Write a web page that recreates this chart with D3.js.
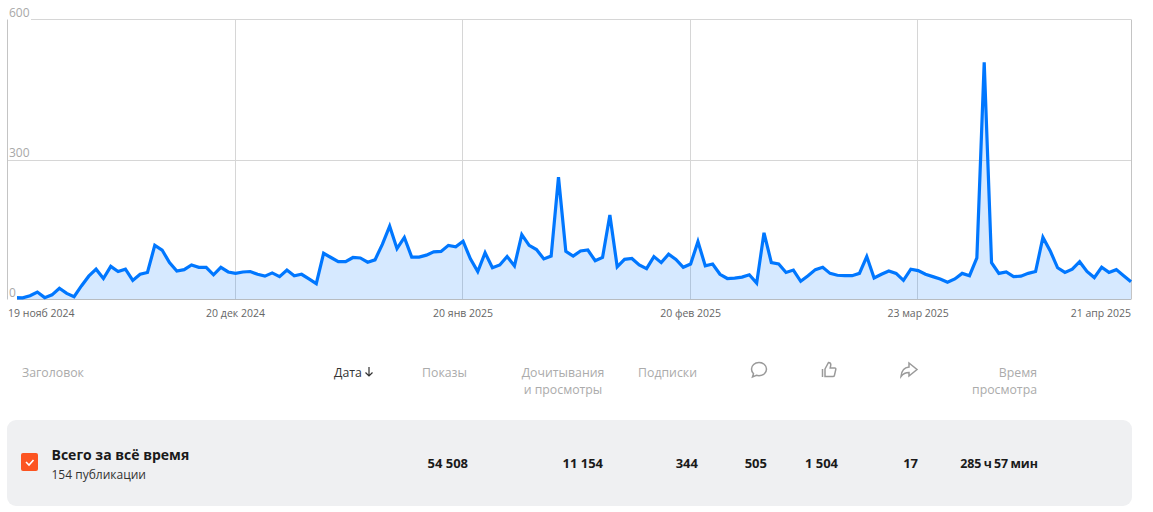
<!DOCTYPE html>
<html>
<head>
<meta charset="utf-8">
<script src="https://cdn.jsdelivr.net/npm/d3@7"></script>
<style>
  html, body { margin: 0; padding: 0; background: #fff; overflow: hidden; }
  text { font-family: "Open Sans", sans-serif; }
</style>
</head>
<body>
<div id="chart"></div>
<script>
// daily values, starting at 19 Nov 2024
const startDate = new Date(2024, 10, 19);
const values = [
  3, 4, 3.5, 8, 16, 4, 10, 24, 13, 6,
  29, 50, 65, 45, 71, 60, 65, 41, 54, 58,
  116, 106, 79, 61, 64, 74, 69, 69, 53, 69,
  59, 56, 59, 60, 54, 50, 57, 49, 63, 51,
  54, 44, 34, 99, 90, 81, 81, 90, 89, 80,
  85, 118, 157, 109, 133, 91, 91, 95, 102, 103,
  116, 113, 125, 87, 60, 100, 68, 74, 92, 72,
  139, 116, 107, 87, 93, 262, 103, 93, 104, 106,
  83, 90, 181, 70, 86, 88, 74, 66, 92, 79,
  97, 86, 69, 76, 124, 72, 76, 54, 45, 46,
  48, 53, 35, 143, 79, 76, 58, 63, 39, 51,
  64, 69, 56, 52, 51, 51, 56, 92, 46, 54,
  61, 56, 41, 65, 62, 54, 49, 44, 37, 44,
  56, 51, 89, 508, 79, 56, 59, 49, 50, 56,
  60, 133, 104, 68, 58, 65, 81, 60, 47, 69,
  58, 64, 51, 38
];
const yTicks = [0, 300, 600];
const xTickDates = [
  new Date(2024, 10, 19), new Date(2024, 11, 20), new Date(2025, 0, 20),
  new Date(2025, 1, 20), new Date(2025, 2, 23), new Date(2025, 3, 21)
];
const xTickLabels = ["19 нояб 2024", "20 дек 2024", "20 янв 2025", "20 фев 2025", "23 мар 2025", "21 апр 2025"];

// table
const headers = [
  { lines: ["Заголовок"], x: 22, anchor: "start" },
  { lines: ["Показы"], x: 467, anchor: "end" },
  { lines: ["Дочитывания", "и просмотры"], x: 603, anchor: "end", center: 563 },
  { lines: ["Подписки"], x: 697, anchor: "end" },
  { lines: ["Время", "просмотра"], x: 1037, anchor: "end" }
];
const totals = ["54 508", "11 154", "344", "505", "1 504", "17", "285 ч 57 мин"];
const totalsRight = [468, 603, 698, 767, 838, 918, 1038];

const width = 1153;
const height = 512;

const svg = d3.select("#chart").append("svg")
  .attr("width", width)
  .attr("height", height)
  .attr("viewBox", [0, 0, width, height])
  .style("display", "block");

const dates = values.map((d, i) => d3.timeDay.offset(startDate, i));

const x = d3.scaleTime()
  .domain([startDate, xTickDates[xTickDates.length - 1]])
  .range([8, 1131]);
const y = d3.scaleLinear().domain([0, 600]).range([299.5, 19.5]);

// grid
const gridColor = "#d6d6d6";
svg.append("g").selectAll("line")
  .data(xTickDates.slice(1, -1))
  .join("line")
  .attr("x1", (d) => Math.floor(x(d) - 0.5) + 0.5).attr("x2", (d) => Math.floor(x(d) - 0.5) + 0.5)
  .attr("y1", y(600)).attr("y2", y(0))
  .attr("stroke", gridColor);
svg.append("line")
  .attr("x1", 1131.5).attr("x2", 1131.5)
  .attr("y1", y(600)).attr("y2", y(0))
  .attr("stroke", "#c4c4c4");
svg.append("line")
  .attr("x1", 7.5).attr("x2", 7.5)
  .attr("y1", y(600)).attr("y2", y(0))
  .attr("stroke", "#c4c4c4");
svg.append("g").selectAll("line")
  .data(yTicks.slice(1))
  .join("line")
  .attr("x1", 8).attr("x2", 1131)
  .attr("y1", (d) => Math.round(y(d)) + (d === 600 ? -0.5 : 0.5))
  .attr("y2", (d) => Math.round(y(d)) + (d === 600 ? -0.5 : 0.5))
  .attr("stroke", gridColor);

// area and line
const area = d3.area()
  .x((d, i) => x(dates[i]))
  .y0(y(0))
  .y1((d) => y(d));
const line = d3.line()
  .x((d, i) => x(dates[i]))
  .y((d) => y(d));

svg.append("path").datum(values)
  .attr("d", area)
  .attr("fill", "#0077ff")
  .attr("fill-opacity", 0.16);
svg.append("line")
  .attr("x1", 8).attr("x2", 1131)
  .attr("y1", y(0)).attr("y2", y(0))
  .attr("stroke", "#b8bcc0");
svg.append("path").datum(values)
  .attr("d", line)
  .attr("fill", "none")
  .attr("stroke", "#0077ff")
  .attr("stroke-width", 3.2)
  .attr("stroke-linejoin", "miter");

// y labels sit on a white plate that hides the lines behind them
const yLabels = svg.append("g").selectAll("g")
  .data(yTicks)
  .join("g");
yLabels.append("rect")
  .attr("x", 8)
  .attr("y", (d) => y(d) - 14)
  .attr("width", (d) => (d === 0 ? 9 : 23))
  .attr("height", 14.5)
  .attr("fill", "#fff")
  .attr("fill-opacity", (d) => (d === 300 ? 0 : 1));
yLabels.append("text")
  .attr("x", 9)
  .attr("y", (d) => y(d) - 2.5)
  .attr("font-size", 12)
  .attr("fill", "#a8a8a8")
  .text((d) => d);

// x labels
svg.append("g").selectAll("text")
  .data(xTickDates)
  .join("text")
  .attr("x", (d) => x(d))
  .attr("y", 317)
  .attr("font-size", 10.5)
  .attr("fill", "#666")
  .attr("text-anchor", (d, i) => (i === 0 ? "start" : i === 5 ? "end" : "middle"))
  .text((d, i) => xTickLabels[i]);

// table header
const headerColor = "#ababab";
headers.forEach((h) => {
  h.lines.forEach((l, i) => {
    svg.append("text")
      .attr("x", h.center || h.x)
      .attr("y", 377 + i * 16.5)
      .attr("font-size", 12.3)
      .attr("fill", headerColor)
      .attr("text-anchor", h.center ? "middle" : h.anchor)
      .text(l);
  });
});
svg.append("text")
  .attr("x", 334).attr("y", 377)
  .attr("font-size", 12.3)
  .attr("fill", "#333")
  .text("Дата");
svg.append("path")
  .attr("d", "M369 367v9M365.5 372.5l3.5 3.5 3.5-3.5")
  .attr("fill", "none")
  .attr("stroke", "#333")
  .attr("stroke-width", 1.2);

// icons
const iconColor = "#9a9a9a";
svg.append("path")
  .attr("d", "M759 362.5c4.4 0 7.5 3 7.5 6.6s-3.1 6.6-7.5 6.6c-1 0-1.8-.1-2.6-.4l-3.9 1.6 1-3.2c-1.3-1.2-2-2.8-2-4.6 0-3.6 3.1-6.6 7.5-6.6z")
  .attr("fill", "none").attr("stroke", iconColor).attr("stroke-width", 1.5);
svg.append("path")
  .attr("d", "M822.5 369v8M825 369l3.5-6.5c1.6 0 2.3 1 2.3 2.3l-.6 3.2h4.6c.8 0 1.2.6 1 1.4l-1.3 5.8c-.2.8-.7 1.3-1.6 1.3H825z")
  .attr("fill", "none").attr("stroke", iconColor).attr("stroke-width", 1.5);
svg.append("path")
  .attr("d", "M909 363l8 6.5-8 6.5v-3.5c-3.4 0-5.8 1-8 4 .4-5 3-9 8-9.5z")
  .attr("fill", "none").attr("stroke", iconColor).attr("stroke-width", 1.5);

// totals row
svg.append("rect")
  .attr("x", 7).attr("y", 420)
  .attr("width", 1125).attr("height", 86)
  .attr("rx", 9)
  .attr("fill", "#eff0f2");
svg.append("rect")
  .attr("x", 21).attr("y", 453)
  .attr("width", 17).attr("height", 18)
  .attr("rx", 2)
  .attr("fill", "#fc5421");
svg.append("path")
  .attr("d", "M26 462l3 3 4.5-5")
  .attr("fill", "none")
  .attr("stroke", "#fff")
  .attr("stroke-width", 1.6);
svg.append("text")
  .attr("x", 51.5).attr("y", 460)
  .attr("font-size", 14)
  .attr("font-weight", 700)
  .attr("fill", "#1a1a1a")
  .text("Всего за всё время");
svg.append("text")
  .attr("x", 51.5).attr("y", 479)
  .attr("font-size", 12)
  .attr("fill", "#333")
  .text("154 публикации");
svg.append("g").selectAll("text")
  .data(totals)
  .join("text")
  .attr("x", (d, i) => totalsRight[i])
  .attr("y", 468)
  .attr("text-anchor", "end")
  .attr("font-size", (d, i) => (i === 6 ? 12.4 : 13))
  .attr("font-weight", 700)
  .attr("word-spacing", (d, i) => (i === 6 ? -1 : 0))
  .attr("fill", "#1a1a1a")
  .text((d) => d);
</script>
</body>
</html>
